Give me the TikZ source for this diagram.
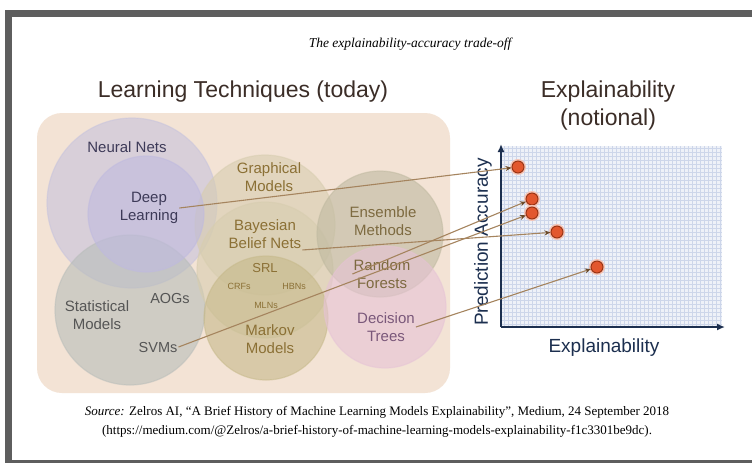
\documentclass[tikz,border=0pt]{standalone}
\usepackage{fontspec}
\setmainfont{Liberation Serif}
\setsansfont{Liberation Sans}
\usetikzlibrary{arrows.meta}
\definecolor{framegray}{HTML}{5E5E5E}
\definecolor{peach}{HTML}{F3E3D5}
\definecolor{nncol}{HTML}{C6C3DD}
\definecolor{dlcol}{HTML}{BFBADF}
\definecolor{smcol}{HTML}{B8BDBA}
\definecolor{gmcol}{HTML}{D7CDAF}
\definecolor{mmcol}{HTML}{C6B98A}
\definecolor{emcol}{HTML}{BFB9A0}
\definecolor{dtcol}{HTML}{E6C3D5}
\definecolor{headbrown}{HTML}{3B2D27}
\definecolor{nntext}{HTML}{3D3A58}
\definecolor{smtext}{HTML}{555555}
\definecolor{gmtext}{HTML}{8B7035}
\definecolor{emtext}{HTML}{7D6A40}
\definecolor{dttext}{HTML}{7A587A}
\definecolor{axisblue}{HTML}{1C2F4F}
\definecolor{gridfill}{HTML}{EEF1F8}
\definecolor{gridline}{HTML}{CDD6EA}
\definecolor{linkbrown}{HTML}{A5845E}
\definecolor{tipbrown}{HTML}{6B4A2A}
\definecolor{dotfill}{HTML}{E2572E}
\definecolor{dotedge}{HTML}{9A3414}

\begin{document}
\begin{tikzpicture}[x=1pt,y=-1pt,
  head/.style={font=\sffamily\fontsize{23}{28}\selectfont,text=headbrown,align=center},
  lbl/.style={font=\sffamily\fontsize{15}{18.5}\selectfont,align=center,inner sep=1pt},
  tiny/.style={font=\sffamily\fontsize{9}{10}\selectfont,text=gmtext,inner sep=1pt},
  blob/.style={draw=white,draw opacity=.5,line width=1.2pt,fill opacity=.6},
  axlbl/.style={font=\sffamily\fontsize{19}{22}\selectfont,text=axisblue},
  dot/.style={circle,draw=dotedge,fill=dotfill,line width=1pt,minimum size=12pt,inner sep=0pt,
    preaction={draw=dotfill!35,line width=4pt}},
  link/.style={draw=linkbrown,line width=1.1pt,-{Stealth[length=6pt,width=5pt,color=tipbrown]}},
  axis/.style={draw=axisblue,line width=2.6pt,-{Latex[length=8pt,width=7pt]}}]
\useasboundingbox (0,0) rectangle (752,467);
\fill[white] (0,0) rectangle (752,467);
\fill[framegray] (5,10) rectangle (752,17);
\fill[framegray] (5,10) rectangle (12,462);
\fill[framegray] (5,460) rectangle (752,462.5);

\node[font=\itshape\fontsize{13.5}{16}\selectfont] (title) at (410,44) {The explainability-accuracy trade-off};
\node[head] (techs) at (243,92) {Learning Techniques (today)};
\node[head] (notional) at (608,106) {Explainability\\(notional)};

\fill[peach,rounded corners=25pt] (37,113) rectangle (450,393);
\fill[blob,nncol] (132,203) circle (85pt);
\fill[blob,smcol] (130,310) circle (75pt);
\fill[blob,gmcol] (265,225) circle (70pt);
\fill[blob,gmcol] (265,270) circle (68pt);
\fill[blob,mmcol] (266,318) circle (62pt);
\fill[blob,emcol] (380,234) circle (63pt);
\fill[blob,dtcol] (385,307) circle (61pt);
\fill[blob,dlcol] (146,214) circle (58pt);

\node[lbl,text=nntext] (nn) at (127,147) {Neural Nets};
\node[lbl,text=nntext] (deep) at (149,208) {Deep\\Learning};
\node[lbl,text=smtext] (stat) at (97,315) {Statistical\\Models};
\node[lbl,text=smtext,font=\sffamily\fontsize{14.5}{17}\selectfont] (aog) at (170,298) {AOGs};
\node[lbl,text=smtext,font=\sffamily\fontsize{14.5}{17}\selectfont] (svm) at (158,347) {SVMs};
\node[lbl,text=gmtext] (graph) at (269,177) {Graphical\\Models};
\node[lbl,text=gmtext] (bayes) at (265,234) {Bayesian\\Belief Nets};
\node[lbl,text=gmtext,font=\sffamily\fontsize{13}{15}\selectfont] (srl) at (265,268) {SRL};
\node[tiny] (crf) at (239,286) {CRFs};
\node[tiny] (hbn) at (294,286) {HBNs};
\node[tiny] (mln) at (266,305) {MLNs};
\node[lbl,text=gmtext] (markov) at (270,339) {Markov\\Models};
\node[lbl,text=emtext] (ens) at (383,221) {Ensemble\\Methods};
\node[lbl,text=emtext] (forest) at (382,274) {Random\\Forests};
\node[lbl,text=dttext] (trees) at (386,327) {Decision\\Trees};

\fill[gridfill] (501,146) rectangle (722,327);
\draw[gridline,line width=.3pt,step=4pt] (501,146) grid (722,327);
\coordinate (org) at (501,327);
\coordinate (ytop) at (501,144);
\coordinate (xend) at (725,327);
\draw[axis] (org) -- (ytop);
\draw[axis] (org) -- (xend);
\node[axlbl,rotate=90] (acc) at (483,242) {Prediction Accuracy};
\node[axlbl] (expl) at (604,348) {Explainability};

\node[dot] (p1) at (518,167) {};
\node[dot] (p2) at (532,199) {};
\node[dot] (p3) at (532,213) {};
\node[dot] (p4) at (557,232) {};
\node[dot] (p5) at (597,267) {};

\draw[link] (deep.east) -- (p1);
\draw[link] (forest.west) -- (p2);
\draw[link] (svm.east) -- (p3);
\draw[link] (bayes.south east) -- (p4);
\draw[link] (trees.east) -- (p5);

\node[font=\fontsize{13}{19.5}\selectfont,align=center] (source) at (377,422)
  {\textit{Source:} Zelros AI, “A Brief History of Machine Learning Models Explainability”, Medium, 24 September 2018\\
  (https://medium.com/@Zelros/a-brief-history-of-machine-learning-models-explainability-f1c3301be9dc).};
\end{tikzpicture}
\end{document}
